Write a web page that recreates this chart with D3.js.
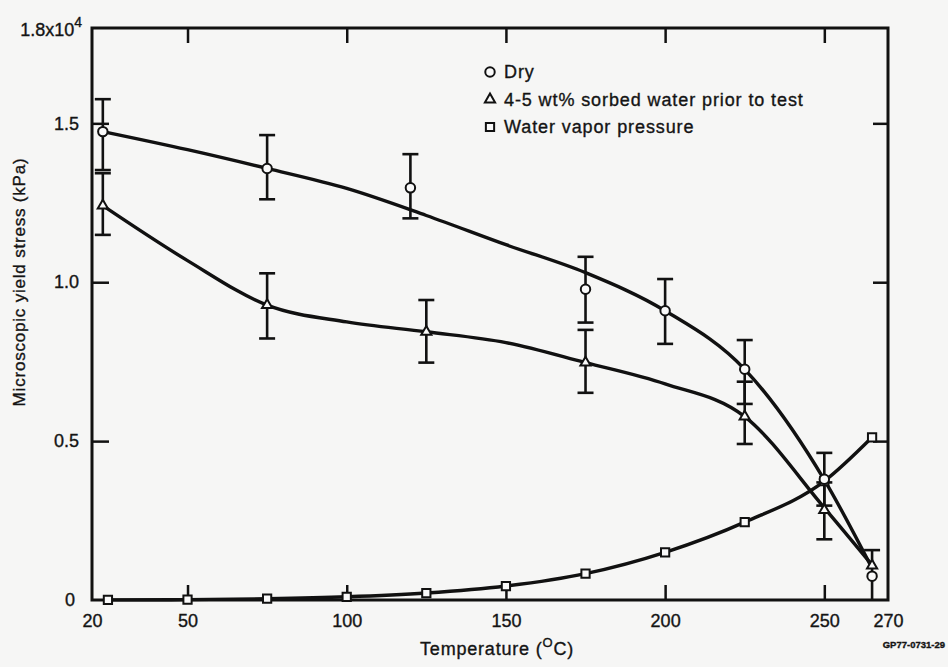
<!DOCTYPE html>
<html>
<head>
<meta charset="utf-8">
<script src="https://cdn.jsdelivr.net/npm/d3@7"></script>
<style>
  html, body { margin: 0; padding: 0; background: #f6f6f5; }
  svg { display: block; }
  text { font-family: "Liberation Sans", Arial, Helvetica, sans-serif; fill: #141414;
         stroke: #141414; stroke-width: 0.35px; }
</style>
</head>
<body>
<svg id="chart" width="948" height="667"></svg>
<script>
// ---------- data (stress values in units of 10^4 kPa) ----------
const xTickValues = [20, 50, 100, 150, 200, 250, 270];
const yTickValues = [0, 0.5, 1.0, 1.5];
const yTickLabels = ["0", "0.5", "1.0", "1.5"];

// Dry specimens
const dryTemp = [23.4, 75, 120, 175, 200, 225, 250, 265];
const dryVal  = [1.474, 1.358, 1.297, 0.978, 0.910, 0.726, 0.380, 0.075];
const dryHi   = [1.576, 1.463, 1.403, 1.080, 1.010, 0.818, 0.463, 0.157];
const dryLo   = [1.353, 1.261, 1.201, 0.873, 0.806, 0.617, 0.297, 0.000];
// fitted (hand-drawn) curve through dry data
const dryCurveTemp = [23.4, 50, 75, 100, 125, 150, 175, 200, 225, 250, 265];
const dryCurveVal  = [1.474, 1.417, 1.358, 1.295, 1.210, 1.118, 1.030, 0.910, 0.726, 0.378, 0.100];

// 4-5 wt% sorbed water prior to test
const wetTemp = [23.4, 75, 125, 175, 225, 250, 265];
const wetVal  = [1.241, 0.928, 0.844, 0.747, 0.577, 0.283, 0.108];
const wetHi   = [1.343, 1.028, 0.944, 0.850, 0.687, 0.370, 0.108];
const wetLo   = [1.149, 0.823, 0.747, 0.652, 0.491, 0.191, 0.108];
const wetCurveTemp = [23.4, 50, 75, 100, 125, 150, 175, 200, 225, 250, 265];
const wetCurveVal  = [1.241, 1.068, 0.928, 0.875, 0.844, 0.810, 0.747, 0.680, 0.577, 0.290, 0.110];

// Water vapor pressure
const vapTemp = [25, 50, 75, 100, 125, 150, 175, 200, 225, 250, 265];
const vapVal  = [0.0003, 0.0012, 0.004, 0.010, 0.022, 0.044, 0.083, 0.150, 0.245, 0.374, 0.512];

const legendLabels = ["Dry", "4-5 wt% sorbed water prior to test", "Water vapor pressure"];

// ---------- drawing ----------
const svg = d3.select("#chart");
const x = d3.scaleLinear().domain([20, 270]).range([92, 888]);
const y = d3.scaleLinear().domain([0, 1.8]).range([600, 28]);
const ink = "#111";

// frame
svg.append("rect")
  .attr("x", x(20)).attr("y", y(1.8))
  .attr("width", x(270) - x(20)).attr("height", y(0) - y(1.8))
  .attr("fill", "none").attr("stroke", ink).attr("stroke-width", 3);

// bottom axis (inward ticks)
const xAxis = d3.axisBottom(x).tickValues(xTickValues).tickFormat(d3.format("d"))
  .tickSizeInner(-15).tickSizeOuter(0).tickPadding(14);
const gx = svg.append("g").attr("transform", `translate(0,${y(0)})`).call(xAxis);
gx.select(".domain").remove();
gx.selectAll(".tick line").attr("stroke", ink).attr("stroke-width", 2.5)
  .filter(d => d === 20 || d === 270).remove();
gx.selectAll(".tick text").attr("font-size", 18).attr("fill", ink)
  .attr("font-family", null);

// top axis (inward ticks, no labels)
const xTop = d3.axisTop(x).tickValues([50, 100, 150, 200, 250]).tickFormat("")
  .tickSizeInner(-15).tickSizeOuter(0);
const gt = svg.append("g").attr("transform", `translate(0,${y(1.8)})`).call(xTop);
gt.select(".domain").remove();
gt.selectAll(".tick line").attr("stroke", ink).attr("stroke-width", 2.5);

// left axis
const yAxis = d3.axisLeft(y).tickValues(yTickValues)
  .tickFormat((d, i) => yTickLabels[i]).tickSizeInner(-17).tickSizeOuter(0).tickPadding(13);
const gy = svg.append("g").attr("transform", `translate(${x(20)},0)`).call(yAxis);
gy.select(".domain").remove();
gy.selectAll(".tick line").attr("stroke", ink).attr("stroke-width", 2.5)
  .filter(d => d === 0).remove();
gy.selectAll(".tick text").attr("font-size", 18).attr("fill", ink)
  .attr("font-family", null);
gy.selectAll(".tick").filter(d => d === 0).select("text").attr("dx", -4);

// top-left "1.8x10^4" label
const topLab = svg.append("text").attr("x", x(20) - 10).attr("y", y(1.8) + 8)
  .attr("text-anchor", "end").attr("font-size", 18);
topLab.append("tspan").text("1.8x10");
topLab.append("tspan").attr("dy", -9).attr("font-size", 14).text("4");

// right axis (inward ticks)
const yRight = d3.axisRight(y).tickValues([0.5, 1.0, 1.5]).tickFormat("")
  .tickSizeInner(-15).tickSizeOuter(0);
const gr = svg.append("g").attr("transform", `translate(${x(270)},0)`).call(yRight);
gr.select(".domain").remove();
gr.selectAll(".tick line").attr("stroke", ink).attr("stroke-width", 2.5);

// axis titles
const xt = svg.append("text").attr("x", 497).attr("y", 655)
  .attr("text-anchor", "middle").attr("font-size", 18).attr("letter-spacing", 0.8);
xt.append("tspan").text("Temperature (");
xt.append("tspan").attr("dy", -8).attr("font-size", 13).text("O");
xt.append("tspan").attr("dy", 8).text("C)");

svg.append("text")
  .attr("transform", `translate(25,${282}) rotate(-90)`)
  .attr("text-anchor", "middle").attr("font-size", 17).attr("letter-spacing", 0.8)
  .text("Microscopic yield stress (kPa)");

svg.append("text").attr("x", 945).attr("y", 648).attr("font-size", 9.5)
  .attr("text-anchor", "end").attr("font-weight", "bold").text("GP77-0731-29");

// curves
const line = d3.line().x(d => x(d[0])).y(d => y(d[1])).curve(d3.curveMonotoneX);
const curves = [
  d3.zip(dryCurveTemp, dryCurveVal),
  d3.zip(wetCurveTemp, wetCurveVal),
  d3.zip(vapTemp, vapVal)
];
svg.append("g").selectAll("path").data(curves).join("path")
  .attr("d", line).attr("fill", "none").attr("stroke", ink).attr("stroke-width", 3.4)
  .attr("stroke-linejoin", "round");

// error bars
function errorBars(temps, lo, hi) {
  const g = svg.append("g").attr("stroke", ink).attr("stroke-width", 2.6);
  temps.forEach((t, i) => {
    if (hi[i] === lo[i]) return;
    const cx = x(t);
    g.append("line").attr("x1", cx).attr("x2", cx).attr("y1", y(hi[i])).attr("y2", y(lo[i]));
    [hi[i], lo[i]].forEach(v => {
      if (v <= 0) return;
      g.append("line").attr("x1", cx - 8).attr("x2", cx + 8).attr("y1", y(v)).attr("y2", y(v));
    });
  });
}
errorBars(dryTemp, dryLo, dryHi);
errorBars(wetTemp, wetLo, wetHi);

// markers
const sym = {
  circle: d3.symbol().type(d3.symbolCircle).size(70),
  triangle: d3.symbol().type(d3.symbolTriangle).size(45),
  square: d3.symbol().type(d3.symbolSquare).size(68)
};
function markers(temps, vals, s) {
  svg.append("g").selectAll("path").data(d3.zip(temps, vals)).join("path")
    .attr("transform", d => `translate(${x(d[0])},${y(d[1])})`)
    .attr("d", s).attr("fill", "#fafafa").attr("stroke", ink).attr("stroke-width", 2);
}
markers(vapTemp, vapVal, sym.square);
markers(wetTemp, wetVal, sym.triangle);
markers(dryTemp, dryVal, sym.circle);

// legend
const legendSyms = [sym.circle, sym.triangle, sym.square];
const lg = svg.append("g").attr("transform", "translate(490,72)");
legendLabels.forEach((lab, i) => {
  lg.append("path").attr("transform", `translate(0,${i * 27.5})`)
    .attr("d", legendSyms[i]).attr("fill", "#fafafa").attr("stroke", ink).attr("stroke-width", 2);
  lg.append("text").attr("x", 14).attr("y", i * 27.5).attr("dy", "0.35em")
    .attr("font-size", 18).attr("letter-spacing", 0.9).text(lab);
});
</script>
</body>
</html>
